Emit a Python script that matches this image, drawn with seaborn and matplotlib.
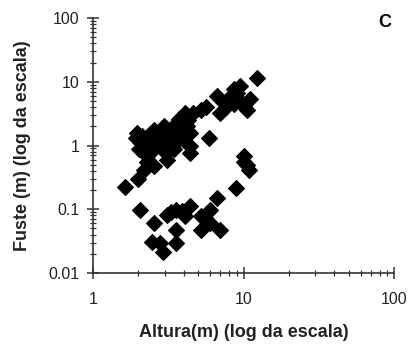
import numpy as np
import pandas as pd
import seaborn as sns
import matplotlib
matplotlib.use("Agg")
import matplotlib.pyplot as plt
from matplotlib.ticker import LogLocator, NullFormatter, FixedLocator

# Data
altura_upper = [1.96, 1.93, 2.12, 2.01, 2.29, 2.29, 2.17, 2.53, 2.53, 2.53, 2.8, 2.95, 3.1,
                3.03, 3.1, 3.44, 3.44, 3.53, 3.62, 3.9, 4.0, 4.1, 4.2, 4.4, 4.44, 4.44,
                4.6, 5.18, 5.6, 5.9, 6.7, 7.0, 7.6, 8.2, 8.6, 9.5, 9.5, 10.6, 11.1, 12.3,
                8.8, 8.6, 2.0, 1.64, 2.4, 2.7, 3.2, 3.3, 3.8, 4.3, 2.2, 2.6, 3.0, 3.7,
                4.1, 2.05, 2.35, 2.9, 3.35, 9.0, 10.0, 7.3]
fuste_upper = [1.58, 1.3, 1.4, 0.87, 0.68, 0.55, 0.42, 0.47, 1.78, 1.1, 1.24, 2.0, 1.4,
               0.77, 0.6, 1.1, 0.87, 1.78, 2.27, 1.6, 1.24, 3.25, 2.0, 1.58, 0.98, 0.77,
               3.25, 3.67, 4.1, 1.32, 5.9, 3.25, 4.1, 5.9, 7.6, 8.5, 5.0, 3.67, 5.3, 11.5,
               5.9, 4.5, 0.3, 0.22, 1.5, 1.6, 1.0, 1.5, 1.3, 2.5, 1.0, 0.9, 1.2, 2.6,
               1.8, 1.15, 1.25, 0.95, 1.9, 6.8, 4.2, 4.8]
altura_lower = [2.04, 2.53, 2.47, 2.8, 2.9, 3.1, 3.57, 3.57, 3.57, 4.1, 4.44, 5.18,
                5.18, 6.0, 6.0, 5.6, 6.7, 7.0, 8.85, 10.0, 10.6, 10.9, 10.0, 3.9, 3.3]
fuste_lower = [0.097, 0.061, 0.031, 0.030, 0.021, 0.08, 0.048, 0.030, 0.099, 0.078,
               0.112, 0.048, 0.078, 0.099, 0.061, 0.07, 0.15, 0.048, 0.217, 0.68,
               0.50, 0.42, 0.55, 0.095, 0.09]

df = pd.DataFrame({
    "altura": altura_upper + altura_lower,
    "fuste": fuste_upper + fuste_lower,
})

xticks = [1, 10, 100]
xlabels = ["1", "10", "100"]
yticks = [0.01, 0.1, 1, 10, 100]
ylabels = ["0.01", "0.1", "1", "10", "100"]

sns.set_theme(style="white")
plt.rcParams['font.family'] = ['Liberation Sans', 'DejaVu Sans']

fig = plt.figure(figsize=(4.08, 3.49), dpi=100)
ax = fig.add_axes([0.228, 0.218, 0.738, 0.730])

sns.scatterplot(data=df, x="altura", y="fuste", marker="D", s=66, color="black",
                edgecolor="black", linewidth=0.8, ax=ax, legend=False)

ax.set_xscale("log")
ax.set_yscale("log")
ax.set_xlim(1, 100)
ax.set_ylim(0.01, 100)

ax.xaxis.set_major_locator(FixedLocator(xticks))
ax.set_xticklabels(xlabels)
ax.yaxis.set_major_locator(FixedLocator(yticks))
ax.set_yticklabels(ylabels)
ax.xaxis.set_minor_locator(LogLocator(base=10, subs=np.arange(2, 10), numticks=20))
ax.yaxis.set_minor_locator(LogLocator(base=10, subs=np.arange(2, 10), numticks=20))
ax.xaxis.set_minor_formatter(NullFormatter())
ax.yaxis.set_minor_formatter(NullFormatter())

for s in ["top", "right"]:
    ax.spines[s].set_visible(False)
for s in ["left", "bottom"]:
    ax.spines[s].set_color("#333333")
    ax.spines[s].set_linewidth(1.2)

ax.tick_params(axis="both", which="major", direction="inout", length=8, width=1.1,
               color="#333333", labelsize=11.5, labelcolor="#222222", left=True, bottom=True)
ax.tick_params(axis="both", which="minor", direction="inout", length=5, width=0.9,
               color="#333333", left=True, bottom=True)
ax.tick_params(axis="x", which="major", pad=10)
ax.tick_params(axis="y", which="major", pad=6)

ax.set_xlabel("Altura(m) (log da escala)", fontsize=13, fontweight="bold",
              color="#222222", labelpad=12)
ax.set_ylabel("Fuste (m) (log da escala)", fontsize=13, fontweight="bold",
              color="#222222", labelpad=12)

ax.text(0.97, 0.984, "C", transform=ax.transAxes, fontsize=13, fontweight="bold",
        color="black", ha="center", va="center")

ax.grid(False)
fig.savefig("out.png", dpi=100)
